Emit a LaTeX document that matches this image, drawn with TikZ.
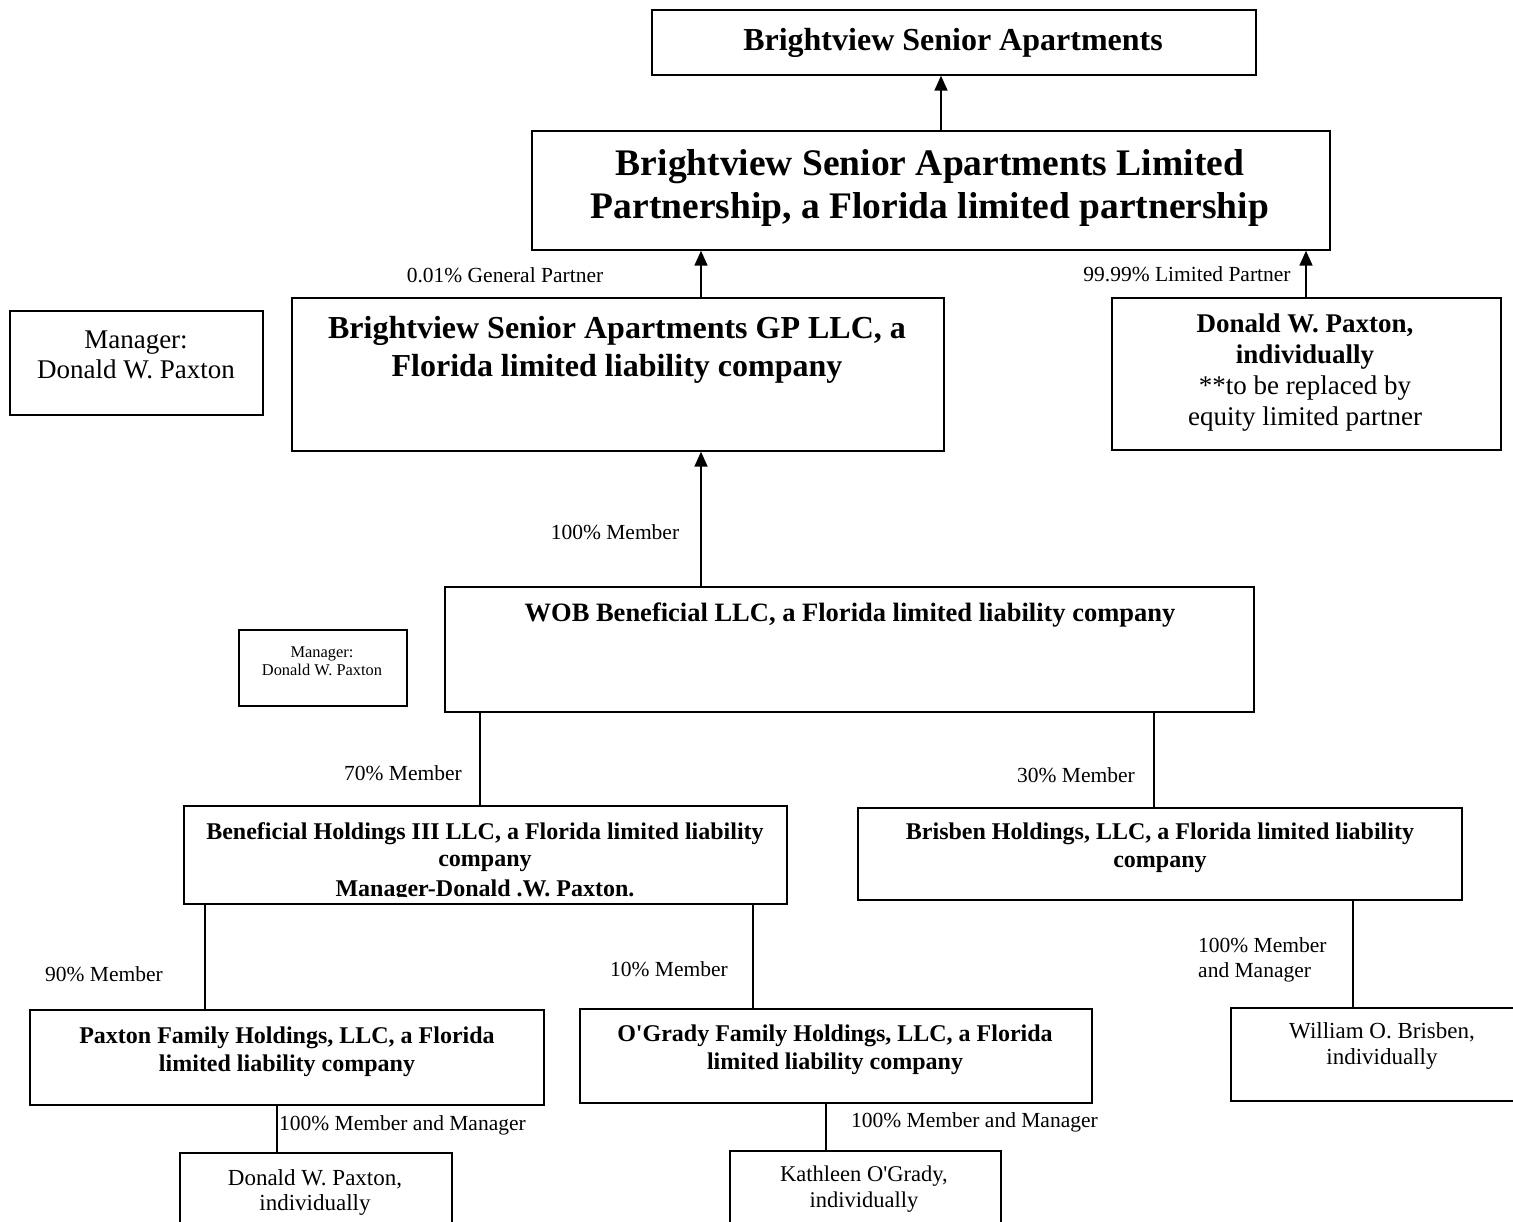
\documentclass[tikz,border=0pt]{standalone}
\usepackage{fontspec}
\setmainfont{Liberation Serif}
\usetikzlibrary{arrows.meta}
\begin{document}
\begin{tikzpicture}[x=1pt,y=-1pt,
  box/.style={draw, line width=1.7pt, rectangle, inner sep=0pt, anchor=north west},
  txt/.style={inner sep=0pt, align=center},
  lbl/.style={inner sep=0pt, font=\fontsize{21.5}{25}\selectfont},
  arr/.style={line width=1.7pt, -{Triangle[length=15pt,width=13pt]}},
  con/.style={line width=1.7pt}]
\useasboundingbox (0,0) rectangle (1513,1222);
\clip (0,0) rectangle (1513,1222);
\fill[white] (0,0) rectangle (1513,1222);
% x positions for connectors
\coordinate (xa) at (941,0);
\coordinate (xb) at (701,0);
\coordinate (xc) at (1306,0);
\coordinate (xd) at (480,0);
\coordinate (xe) at (1154,0);
\coordinate (xf) at (205,0);
\coordinate (xg) at (753,0);
\coordinate (xh) at (277,0);
\coordinate (xi) at (826,0);
\coordinate (xj) at (1353,0);
% boxes
\node[box, minimum width=604pt, minimum height=65pt] (top) at (651,9) {};
\node[txt, font=\fontsize{32}{37}\selectfont\bfseries] (topt) at (953,43) {Brightview Senior Apartments};

\node[box, minimum width=798pt, minimum height=119pt] (lp) at (531,130) {};
\node[txt, font=\fontsize{37.5}{43}\selectfont\bfseries] (lpt) at (930,188) {Brightview Senior Apartments Limited\\Partnership, a Florida limited partnership};

\node[box, minimum width=652pt, minimum height=153pt] (gp) at (291,297) {};
\node[txt, font=\fontsize{32}{38}\selectfont\bfseries] (gpt) at (617,350) {Brightview Senior Apartments GP LLC, a\\Florida limited liability company};

\node[box, minimum width=389pt, minimum height=152pt] (dlp) at (1111,297) {};
\node[txt, font=\fontsize{27}{31}\selectfont] (dlpt) at (1305,373) {\textbf{Donald W. Paxton,}\\\textbf{individually}\\**to be replaced by\\equity limited partner};

\node[box, minimum width=253pt, minimum height=104pt] (mgra) at (9,310) {};
\node[txt, font=\fontsize{27}{30}\selectfont] (mgrat) at (136,355) {Manager:\\Donald W. Paxton};

\node[box, minimum width=809pt, minimum height=125pt] (wob) at (444,586) {};
\node[txt, font=\fontsize{26.5}{30}\selectfont\bfseries] (wobt) at (850,615) {WOB Beneficial LLC, a Florida limited liability company};

\node[box, minimum width=168pt, minimum height=76pt] (mgrb) at (238,629) {};
\node[txt, font=\fontsize{16.4}{18}\selectfont] (mgrbt) at (322,661) {Manager:\\Donald W. Paxton};

\node[box, minimum width=603pt, minimum height=98pt] (ben) at (183,805) {};
\begin{scope}
\clip (183,805) rectangle (786,896);
\node[txt, font=\fontsize{24}{27}\selectfont\bfseries] (bent) at (485,862) {Beneficial Holdings III LLC, a Florida limited liability\\company\\[3pt]Manager-Donald .W. Paxton.};
\end{scope}

\node[box, minimum width=604pt, minimum height=92pt] (bri) at (857,807) {};
\node[txt, font=\fontsize{24}{28}\selectfont\bfseries] (brit) at (1160,848) {Brisben Holdings, LLC, a Florida limited liability\\company};

\node[box, minimum width=514pt, minimum height=95pt] (pfh) at (29,1009) {};
\node[txt, font=\fontsize{24}{28}\selectfont\bfseries] (pfht) at (287,1052) {Paxton Family Holdings, LLC, a Florida\\limited liability company};

\node[box, minimum width=512pt, minimum height=94pt] (ogf) at (579,1008) {};
\node[txt, font=\fontsize{24}{28}\selectfont\bfseries] (ogft) at (835,1050) {O\textquotesingle Grady Family Holdings, LLC, a Florida\\limited liability company};

\node[box, minimum width=272pt, minimum height=100pt] (dind) at (179,1152) {};
\node[txt, font=\fontsize{23}{25}\selectfont] (dindt) at (315,1192) {Donald W. Paxton,\\individually};

\node[box, minimum width=271pt, minimum height=100pt] (kog) at (729,1150) {};
\node[txt, font=\fontsize{22.5}{26}\selectfont] (kogt) at (864,1189) {Kathleen O\textquotesingle Grady,\\individually};

\node[box, minimum width=300pt, minimum height=93pt] (wil) at (1230,1007) {};
\node[txt, font=\fontsize{23}{26}\selectfont] (wilt) at (1382,1046) {William O. Brisben,\\individually};

% connectors
\draw[arr] (lp.north -| xa) -- (top.south -| xa);
\draw[arr] (gp.north -| xb) -- (lp.south -| xb);
\draw[arr] (dlp.north -| xc) -- (lp.south -| xc);
\draw[arr] (wob.north -| xb) -- (gp.south -| xb);
\draw[con] (wob.south -| xd) -- (ben.north -| xd);
\draw[con] (wob.south -| xe) -- (bri.north -| xe);
\draw[con] (ben.south -| xf) -- (pfh.north -| xf);
\draw[con] (ben.south -| xg) -- (ogf.north -| xg);
\draw[con] (pfh.south -| xh) -- (dind.north -| xh);
\draw[con] (ogf.south -| xi) -- (kog.north -| xi);
\draw[con] (bri.south -| xj) -- (wil.north -| xj);

% labels
\node[lbl] (l1) at (505,275) {0.01\% General Partner};
\node[lbl] (l2) at (1187,274) {99.99\% Limited Partner};
\node[lbl] (l3) at (615,532) {100\% Member};
\node[lbl] (l4) at (403,773) {70\% Member};
\node[lbl] (l5) at (1076,775) {30\% Member};
\node[lbl] (l6) at (104,974) {90\% Member};
\node[lbl] (l7) at (669,969) {10\% Member};
\node[lbl, anchor=west] (l8) at (279,1125) {100\% Member and Manager};
\node[lbl, anchor=west] (l9) at (851,1122) {100\% Member and Manager};
\node[lbl, anchor=west, align=left, font=\fontsize{21.5}{25}\selectfont] (l10) at (1198,960) {100\% Member\\and Manager};
\end{tikzpicture}
\end{document}
